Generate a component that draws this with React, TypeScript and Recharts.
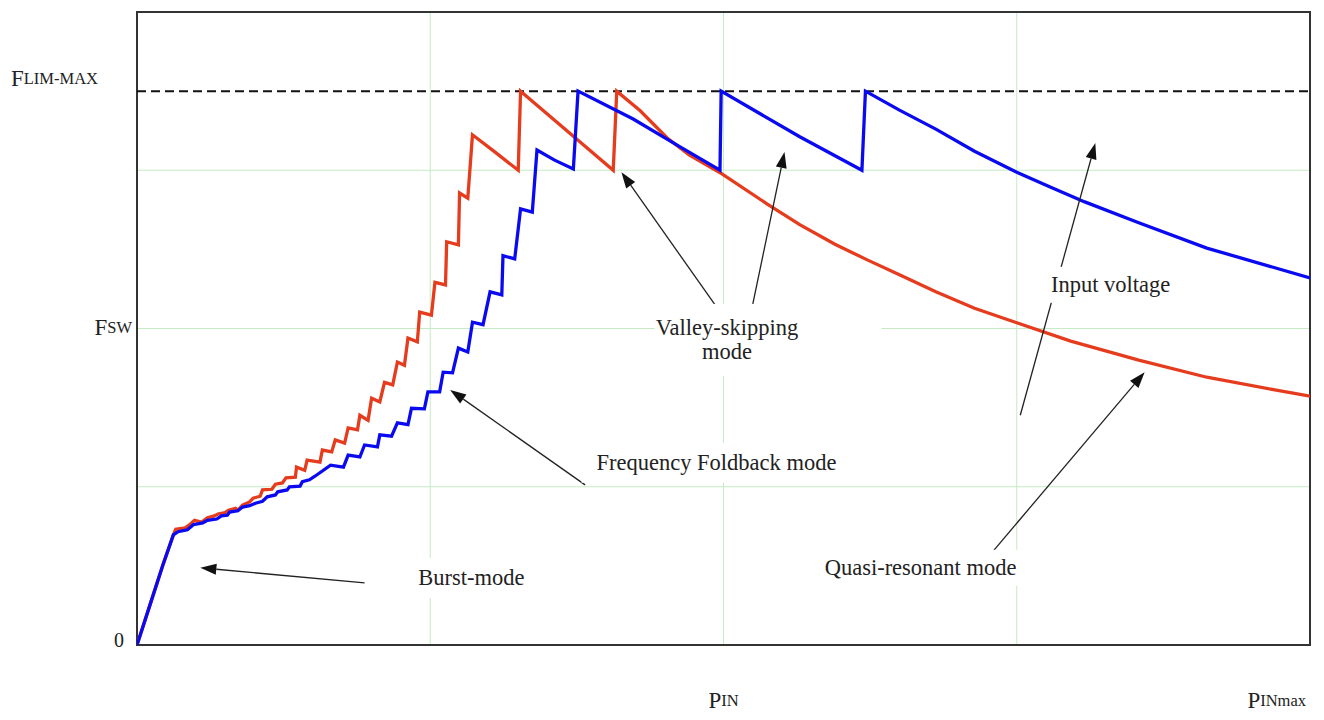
import {
  LineChart,
  Line,
  XAxis,
  YAxis,
  CartesianGrid,
  ReferenceLine,
  ReferenceArea,
  ReferenceDot,
} from 'recharts';

// x: share of PINmax (%), y: share of the plot height (%)
const highLineCurve = [
  [0, 0], [1.1, 6.3], [2.2, 12.6], [3.1, 17.4], [3.3, 18.3], [4.1, 18.5], [4.5, 19.0],
  [4.9, 19.7], [5.5, 19.4], [6.0, 20.1], [6.6, 20.4], [6.9, 20.7], [7.5, 20.9], [7.8, 21.3],
  [8.4, 21.6], [8.6, 21.3], [9.0, 22.1], [9.6, 22.6], [9.9, 23.2], [10.5, 23.5], [10.7, 24.5],
  [11.5, 24.6], [11.8, 25.4], [12.4, 25.6], [12.7, 26.4], [13.5, 26.5], [13.6, 28.1],
  [14.3, 27.6], [14.5, 29.2], [15.6, 28.9], [15.8, 30.8], [16.6, 30.5], [16.9, 32.4],
  [17.7, 31.9], [18.0, 34.3], [18.8, 34.0], [19.0, 36.3], [19.7, 35.5], [20.0, 39.0],
  [20.7, 38.4], [21.1, 41.5], [21.8, 41.1], [22.2, 44.7], [22.8, 44.2], [23.1, 48.5],
  [23.9, 47.9], [24.1, 52.6], [25.1, 52.1], [25.4, 57.3], [26.3, 56.9], [26.4, 63.7],
  [27.4, 63.2], [27.5, 71.4], [28.2, 70.6], [28.6, 80.6], [30.5, 77.9], [32.5, 75.0],
  [32.7, 87.5], [36.1, 82.1], [40.6, 75.0], [40.9, 87.5], [42.9, 84.4], [45.2, 80.1],
  [47.1, 77.4], [49.9, 74.4], [53.7, 69.7], [56.5, 66.4], [59.5, 63.3], [62.3, 60.8],
  [65.0, 58.5], [68.1, 55.8], [71.4, 53.2], [75.0, 50.9], [79.6, 48.0], [85.4, 45.0],
  [91.2, 42.3], [97.0, 40.3], [100, 39.3],
];

const lowLineCurve = [
  [0, 0], [1.1, 6.3], [2.2, 12.6], [3.1, 17.4], [3.5, 17.9], [4.3, 18.2], [4.8, 19.0],
  [5.6, 19.3], [6.0, 19.7], [6.8, 19.9], [7.2, 20.4], [7.7, 20.5], [7.9, 21.0], [8.6, 21.2],
  [9.0, 21.8], [9.6, 22.0], [10.1, 22.4], [10.7, 22.7], [11.1, 23.4], [11.8, 23.7],
  [12.0, 24.2], [12.8, 24.5], [13.0, 25.0], [13.9, 25.1], [14.1, 25.8], [14.7, 26.1],
  [15.2, 26.7], [16.5, 28.4], [17.6, 28.1], [18.0, 30.0], [19.0, 29.7], [19.4, 31.6],
  [20.5, 31.3], [20.7, 33.2], [21.7, 33.0], [22.2, 35.1], [23.1, 34.8], [23.4, 37.4],
  [24.5, 37.3], [24.8, 40.0], [25.8, 40.0], [26.1, 43.1], [26.9, 43.0], [27.4, 46.9],
  [28.2, 46.3], [28.6, 51.0], [29.5, 50.6], [30.1, 55.8], [31.1, 55.3], [31.2, 61.5],
  [32.2, 61.0], [32.7, 68.9], [33.7, 68.4], [34.1, 78.2], [35.6, 76.6], [37.2, 75.2],
  [37.6, 87.5], [42.3, 83.1], [46.3, 78.7], [49.7, 75.0], [49.8, 87.5], [56.5, 80.3],
  [61.8, 75.0], [62.1, 87.5], [65.0, 84.5], [68.1, 81.5], [71.4, 78.0], [75.0, 74.7],
  [77.8, 72.4], [80.8, 70.0], [85.4, 66.7], [91.2, 62.7], [97.0, 59.6], [100, 58.0],
];

const gridValues = [25, 50, 75];
const fLimMax = 87.5;
const yTicks = [0, 50, fLimMax];
const xTicks = [50, 100];

// annotations: text centre, white box behind it (offset/size in px), arrows tail -> head
const notes = [
  { x: 50.3, y: 48.2, lines: ['Valley-skipping', 'mode'], w: 227, h: 72, dx: 41 },
  { x: 49.4, y: 28.8, lines: ['Frequency Foldback mode'], w: 270, h: 40, dx: 0 },
  { x: 28.5, y: 10.6, lines: ['Burst-mode'], w: 150, h: 40, dx: 0 },
  { x: 83.0, y: 56.9, lines: ['Input voltage'], w: 140, h: 36, dx: 0 },
  { x: 66.8, y: 12.2, lines: ['Quasi-resonant mode'], w: 215, h: 36, dx: 0 },
];

const arrows = [
  [[19.4, 9.8], [5.4, 12.2]],
  [[38.2, 25.3], [26.7, 40.3]],
  [[49.9, 52.1], [41.3, 74.7]],
  [[52.3, 52.1], [55.2, 77.9]],
  [[75.3, 36.3], [81.7, 79.3]],
  [[72.7, 14.2], [85.9, 43.1]],
];

const toPoints = (c: number[][]) => c.map(([x, y]) => ({ x, y }));
const FONT = '"Liberation Serif", "Times New Roman", serif';

const ArrowShape = (p: any) => {
  const { x1, y1, x2, y2 } = p;
  const a = Math.atan2(y2 - y1, x2 - x1);
  const len = 16;
  const half = 5.5;
  const bx = x2 - len * Math.cos(a);
  const by = y2 - len * Math.sin(a);
  const pts = `${x2},${y2} ${bx + half * Math.sin(a)},${by - half * Math.cos(a)} ${bx - half * Math.sin(a)},${by + half * Math.cos(a)}`;
  return (
    <g>
      <line x1={x1} y1={y1} x2={bx} y2={by} stroke="#222" strokeWidth={1.3} />
      <polygon points={pts} fill="#111" />
    </g>
  );
};

const noteShape = (lines: string[], w: number, h: number, dx: number) => (p: any) => {
  const { cx, cy } = p;
  const lh = 24;
  const top = cy - ((lines.length - 1) * lh) / 2;
  return (
    <g>
      <rect x={cx + dx - w / 2} y={cy - h / 2} width={w} height={h} fill="#fff" />
      {lines.map((t, i) => (
        <text
          key={i}
          x={cx}
          y={top + i * lh}
          textAnchor="middle"
          dominantBaseline="central"
          fontFamily={FONT}
          fontSize={22.5}
          fill="#222"
        >
          {t}
        </text>
      ))}
    </g>
  );
};

const YTick = (p: any) => {
  const { x, y, payload } = p;
  const v = payload.value;
  if (v === 0) {
    return (
      <text x={x - 13} y={y - 5} textAnchor="end" dominantBaseline="central" fontFamily={FONT} fontSize={20} fill="#222">
        0
      </text>
    );
  }
  if (v === 50) {
    return (
      <text x={x - 5} y={y - 2} textAnchor="end" dominantBaseline="central" fontFamily={FONT} fill="#222">
        <tspan fontSize={23}>F</tspan>
        <tspan fontSize={16.5}>SW</tspan>
      </text>
    );
  }
  return (
    <text x={x - 39} y={y - 13} textAnchor="end" dominantBaseline="central" fontFamily={FONT} fill="#222">
      <tspan fontSize={23}>F</tspan>
      <tspan fontSize={16.5}>LIM-MAX</tspan>
    </text>
  );
};

const XTick = (p: any) => {
  const { x, y, payload } = p;
  const last = payload.value === 100;
  return (
    <text
      x={last ? x + 2 : x}
      y={y + 55}
      textAnchor={last ? 'end' : 'middle'}
      dominantBaseline="central"
      fontFamily={FONT}
      fill="#222"
    >
      <tspan fontSize={23}>P</tspan>
      <tspan fontSize={16.5}>{last ? 'INmax' : 'IN'}</tspan>
    </text>
  );
};

export default function App() {
  return (
    <div style={{ width: 1308, height: 704, background: '#fff' }}>
      <LineChart width={1308} height={704} margin={{ top: 4, right: 6, bottom: 0, left: 0 }}>
        <CartesianGrid
          stroke="#c4ebc4"
          strokeWidth={1}
          horizontalValues={gridValues}
          verticalValues={gridValues}
        />
        <XAxis
          type="number"
          dataKey="x"
          domain={[0, 100]}
          ticks={xTicks}
          axisLine={false}
          tickLine={false}
          tickSize={0}
          tickMargin={0}
          height={67}
          tick={<XTick />}
          allowDataOverflow
        />
        <YAxis
          type="number"
          dataKey="y"
          domain={[0, 100]}
          ticks={yTicks}
          axisLine={false}
          tickLine={false}
          tickSize={0}
          tickMargin={0}
          width={129}
          tick={<YTick />}
          allowDataOverflow
        />
        {notes.map((n, i) => (
          <ReferenceDot key={`n${i}`} x={n.x} y={n.y} r={0} shape={noteShape(n.lines, n.w, n.h, n.dx)} />
        ))}
        <ReferenceLine y={fLimMax} stroke="#111" strokeWidth={2} strokeDasharray="9 5" />
        <Line
          data={toPoints(highLineCurve)}
          dataKey="y"
          type="linear"
          stroke="#e63c1e"
          strokeWidth={3.3}
          dot={false}
          isAnimationActive={false}
        />
        <Line
          data={toPoints(lowLineCurve)}
          dataKey="y"
          type="linear"
          stroke="#0a0af0"
          strokeWidth={3.3}
          dot={false}
          isAnimationActive={false}
        />
        {arrows.map(([a, b], i) => (
          <ReferenceLine
            key={`a${i}`}
            segment={[{ x: a[0], y: a[1] }, { x: b[0], y: b[1] }]}
            shape={ArrowShape}
          />
        ))}
        <ReferenceArea x1={0} x2={100} y1={0} y2={100} fill="none" stroke="#333" strokeWidth={2} />
      </LineChart>
    </div>
  );
}
